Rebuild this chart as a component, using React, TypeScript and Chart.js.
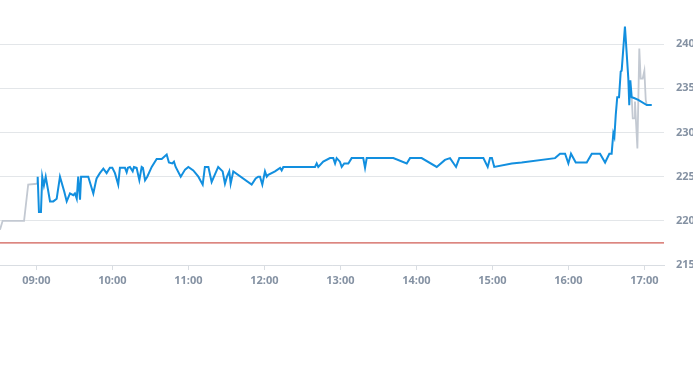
import React, { useEffect, useRef } from "react";
import { Chart, registerables } from "chart.js";

Chart.register(...registerables);

// ---- data ----
const blueTimes = [
  "09:00:40", "09:01:05", "09:02:05", "09:03:40", "09:04:40", "09:06:00", "09:07:25", "09:10:50", "09:13:25", "09:16:05",
  "09:18:40", "09:22:05", "09:24:00", "09:26:35", "09:29:10", "09:30:30", "09:31:55", "09:33:05", "09:34:30", "09:35:20",
  "09:41:00", "09:45:00", "09:46:55", "09:47:35", "09:50:10", "09:52:55", "09:55:30", "09:58:05", "10:00:00", "10:02:05",
  "10:04:40", "10:06:00", "10:10:00", "10:11:20", "10:12:20", "10:13:55", "10:16:05", "10:17:05", "10:19:10", "10:21:20",
  "10:23:10", "10:24:10", "10:25:50", "10:27:35", "10:31:05", "10:35:00", "10:39:00", "10:42:55", "10:44:40", "10:47:20",
  "10:48:40", "10:50:00", "10:54:00", "10:57:25", "11:00:00", "11:03:55", "11:07:55", "11:11:20", "11:13:05", "11:15:50",
  "11:18:25", "11:23:35", "11:27:05", "11:28:55", "11:30:30", "11:32:20", "11:33:25", "11:35:30", "11:50:00", "11:53:10",
  "11:55:10", "11:56:35", "11:58:25", "12:00:30", "12:01:55", "12:03:05", "12:08:25", "12:12:25", "12:13:40", "12:15:00",
  "12:40:00", "12:41:20", "12:42:35", "12:46:30", "12:51:50", "12:54:25", "12:55:50", "12:57:05", "12:59:40", "13:01:05",
  "13:03:05", "13:06:20", "13:08:55", "13:18:05", "13:19:30", "13:20:50", "13:41:50", "13:52:25", "13:55:00", "14:04:10",
  "14:16:05", "14:22:35", "14:26:35", "14:31:20", "14:33:55", "14:52:55", "14:56:20", "14:58:10", "14:59:40", "15:01:30",
  "15:15:20", "15:23:10", "15:49:30", "15:53:25", "15:57:25", "16:00:00", "16:02:05", "16:05:50", "16:14:30", "16:18:30",
  "16:25:00", "16:29:00", "16:32:20", "16:34:10", "16:35:30", "16:36:20", "16:37:25", "16:38:35", "16:40:00", "16:41:20",
  "16:42:05", "16:44:40", "16:47:20", "16:48:05", "16:48:55", "16:50:00", "16:51:50", "16:55:10", "17:01:55", "17:05:50",
];
const blueValues = [
  224.2, 225.0, 221.0, 221.0, 225.0, 224.0, 225.0, 222.2, 222.2, 222.5,
  225.0, 223.3, 222.2, 223.1, 222.9, 223.1, 222.5, 225.0, 222.4, 225.0,
  225.0, 223.1, 224.4, 224.8, 225.4, 225.9, 225.4, 226.0, 226.0, 225.4,
  224.1, 226.0, 226.0, 225.5, 226.0, 226.1, 225.6, 226.1, 226.0, 224.6,
  226.1, 226.0, 224.6, 225.0, 226.1, 227.0, 227.0, 227.5, 226.6, 226.5,
  226.7, 226.1, 225.0, 225.8, 226.1, 225.7, 225.0, 224.1, 226.1, 226.1,
  224.4, 226.1, 225.6, 224.2, 225.0, 225.6, 224.2, 225.6, 224.1, 224.8,
  225.0, 225.0, 224.1, 225.6, 225.0, 225.2, 225.6, 226.0, 225.7, 226.1,
  226.1, 226.5, 226.1, 226.7, 227.1, 227.1, 226.5, 227.1, 226.7, 226.1,
  226.5, 226.5, 227.1, 227.1, 226.0, 227.1, 227.1, 226.5, 227.1, 227.1,
  226.1, 226.9, 227.1, 226.1, 227.1, 227.1, 226.1, 227.1, 227.1, 226.1,
  226.5, 226.6, 227.1, 227.6, 227.6, 226.5, 227.6, 226.6, 226.6, 227.6,
  227.6, 226.6, 227.6, 227.6, 229.9, 229.5, 232.0, 234.0, 234.0, 236.9,
  237.0, 242.0, 236.1, 233.1, 235.9, 234.0, 233.9, 233.7, 233.1, 233.1,
];

const grayStartTimes = ["08:31:20", "08:33:25", "08:50:20", "08:53:35", "09:00:40"];
const grayStartValues = [219.0, 220.0, 220.0, 224.1, 224.2];

const grayEndTimes = ["16:50:00", "16:50:50", "16:51:50", "16:52:35", "16:54:30", "16:56:00", "16:57:05", "16:58:40", "17:00:00", "17:01:05", "17:01:55"];
const grayEndValues = [234.0, 231.6, 231.6, 233.5, 228.2, 239.5, 236.1, 236.1, 237.0, 233.7, 233.1];

const referenceLevel = 217.5;
const axisStart = "08:31:20";
const axisEnd = "17:15:30";
const hourTicks = ["09:00", "10:00", "11:00", "12:00", "13:00", "14:00", "15:00", "16:00", "17:00"];
const yTicks = [215, 220, 225, 230, 235, 240];

// ---- helpers ----
const toMin = (t: string) => {
  const [h, m, s] = t.split(":").map(Number);
  return h * 60 + m + (s || 0) / 60;
};
const fmt = (v: number) => {
  const h = Math.floor(v / 60);
  const m = Math.round(v - h * 60);
  return `${String(h).padStart(2, "0")}:${String(m).padStart(2, "0")}`;
};
const pts = (times: string[], vals: number[]) => times.map((t, i) => ({ x: toMin(t), y: vals[i] }));

export default function App() {
  const ref = useRef<HTMLCanvasElement | null>(null);
  useEffect(() => {
    if (!ref.current) return;
    const xMin = toMin(axisStart);
    const xMax = toMin(axisEnd);
    const grayData: any[] = [...pts(grayStartTimes, grayStartValues), { x: (toMin("09:00:40") + toMin("16:50:00")) / 2, y: null }, ...pts(grayEndTimes, grayEndValues)];
    const font = { family: "'Open Sans', sans-serif", size: 11, weight: "bold" as any };
    const chart = new Chart(ref.current, {
      type: "line",
      data: {
        datasets: [
          {
            data: pts(blueTimes, blueValues),
            borderColor: "#128fdf",
            borderWidth: 2,
            pointRadius: 0,
            tension: 0,
            order: 1,
          },
          {
            data: grayData,
            borderColor: "#c3c9d2",
            borderWidth: 1.8,
            pointRadius: 0,
            tension: 0,
            spanGaps: false,
            order: 2,
          },
          {
            data: [{ x: xMin, y: referenceLevel }, { x: xMax, y: referenceLevel }],
            borderColor: "#c4342a",
            borderWidth: 1,
            pointRadius: 0,
            order: 3,
          },
        ],
      },
      options: {
        animation: false,
        responsive: false,
        events: [],
        layout: { padding: 0 },
        plugins: { legend: { display: false }, tooltip: { enabled: false } },
        scales: {
          x: {
            type: "linear",
            min: xMin,
            max: xMax,
            afterBuildTicks: (s: any) => {
              s.ticks = hourTicks.map((t) => ({ value: toMin(t) }));
            },
            afterFit: (s: any) => {
              s.height = 100;
              s.paddingLeft = 0;
              s.paddingRight = 0;
            },
            grid: { drawOnChartArea: false, drawTicks: true, tickLength: 5, color: "#d9dde2" },
            border: { display: true, color: "#d9dde2" },
            ticks: {
              autoSkip: false,
              maxRotation: 0,
              padding: 4,
              color: "#8592a3",
              font,
              callback: (v: any) => fmt(Number(v)),
            },
          },
          y: {
            position: "right",
            min: 215,
            max: 245,
            afterBuildTicks: (s: any) => {
              s.ticks = yTicks.map((v) => ({ value: v }));
            },
            afterFit: (s: any) => {
              s.width = 29;
              s.paddingTop = 0;
              s.paddingBottom = 0;
            },
            grid: { drawTicks: false, color: "#e3e6e9" },
            border: { display: false },
            ticks: {
              padding: 12,
              color: "#8592a3",
              font,
              callback: (v: any) => String(v),
            },
          },
        },
      },
    });
    return () => chart.destroy();
  }, []);
  return (
    <div style={{ position: "fixed", left: 0, top: 0, width: 693, height: 365, background: "#fff" }}>
      <canvas ref={ref} width={693} height={365} style={{ width: 693, height: 365, display: "block" }} />
    </div>
  );
}
